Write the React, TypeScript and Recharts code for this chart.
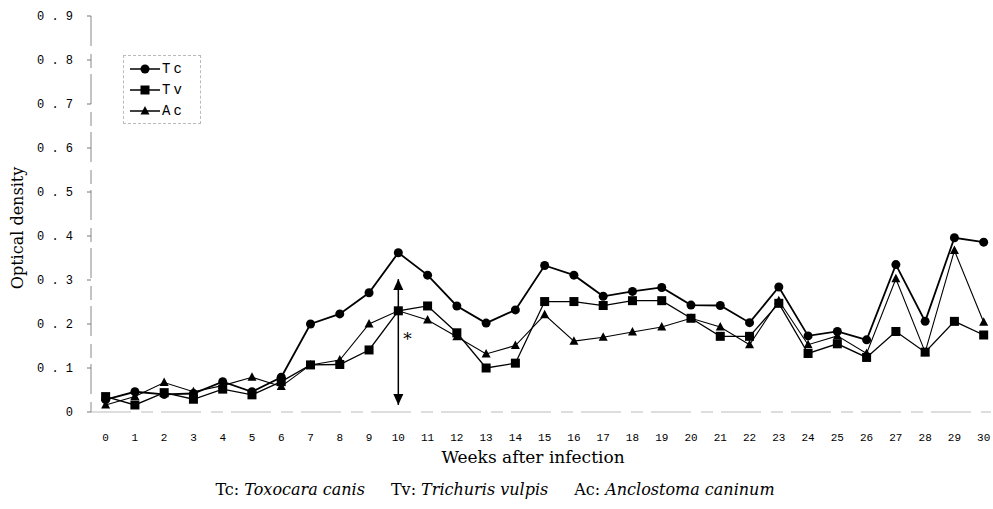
import React from "react";
import {
  LineChart,
  Line,
  XAxis,
  YAxis,
  Legend,
  ReferenceLine,
  ReferenceDot,
  Label,
} from "recharts";

const weeks = [
  0, 1, 2, 3, 4, 5, 6, 7, 8, 9, 10, 11, 12, 13, 14, 15, 16, 17, 18, 19, 20,
  21, 22, 23, 24, 25, 26, 27, 28, 29, 30,
];
const tcValues = [
  0.028, 0.046, 0.04, 0.042, 0.069, 0.046, 0.079, 0.2, 0.223, 0.271, 0.362,
  0.311, 0.241, 0.202, 0.232, 0.333, 0.311, 0.263, 0.274, 0.283, 0.243, 0.242,
  0.203, 0.284, 0.173, 0.183, 0.164, 0.335, 0.206, 0.396, 0.386,
];
const tvValues = [
  0.035, 0.016, 0.044, 0.029, 0.052, 0.039, 0.069, 0.107, 0.108, 0.141, 0.23,
  0.241, 0.18, 0.1, 0.111, 0.251, 0.251, 0.242, 0.253, 0.253, 0.213, 0.172,
  0.172, 0.247, 0.133, 0.155, 0.124, 0.183, 0.136, 0.206, 0.175,
];
const acValues = [
  0.016, 0.035, 0.067, 0.046, 0.06, 0.079, 0.058, 0.107, 0.118, 0.2, 0.23,
  0.209, 0.171, 0.132, 0.151, 0.221, 0.161, 0.17, 0.182, 0.193, 0.213, 0.193,
  0.153, 0.253, 0.153, 0.173, 0.133, 0.303, 0.136, 0.367, 0.204,
];
const yTicks = [0, 0.1, 0.2, 0.3, 0.4, 0.5, 0.6, 0.7, 0.8, 0.9];
const seriesNames = ["Tc", "Tv", "Ac"];
const arrowWeek = 10;
const arrowTop = 0.302;
const arrowBottom = 0.016;
const starValue = 0.17;

const data = weeks.map((w, i) => ({
  week: w,
  Tc: tcValues[i],
  Tv: tvValues[i],
  Ac: acValues[i],
}));

const MONO = "'Liberation Mono', 'DejaVu Sans Mono', monospace";
const SERIF = "'DejaVu Serif', 'Liberation Serif', serif";

const CircleDot = (props: any) => {
  const { cx, cy } = props;
  if (cx == null || cy == null) return null;
  return <circle cx={cx} cy={cy} r={4.5} fill="#000" stroke="none" />;
};
const SquareDot = (props: any) => {
  const { cx, cy } = props;
  if (cx == null || cy == null) return null;
  return <rect x={cx - 4.5} y={cy - 4.5} width={9} height={9} fill="#000" />;
};
const TriDot = (props: any) => {
  const { cx, cy } = props;
  if (cx == null || cy == null) return null;
  return (
    <polygon
      points={`${cx},${cy - 5} ${cx - 4.5},${cy + 3.5} ${cx + 4.5},${cy + 3.5}`}
      fill="#000"
    />
  );
};

const markerFor = (name: string, cx: number, cy: number) => {
  if (name === "Tc") return <CircleDot cx={cx} cy={cy} />;
  if (name === "Tv") return <SquareDot cx={cx} cy={cy} />;
  return <TriDot cx={cx} cy={cy} />;
};

const LegendContent = () => (
  <div
    style={{
      border: "1px dashed #bbb",
      padding: "2px 6px 2px 6px",
      background: "#fff",
      width: 64,
    }}
  >
    {seriesNames.map((n) => (
      <div
        key={n}
        style={{ display: "flex", alignItems: "center", height: 21 }}
      >
        <svg width={30} height={12}>
          <line x1={0} y1={6} x2={30} y2={6} stroke="#000" strokeWidth={1.5} />
          {markerFor(n, 15, 6)}
        </svg>
        <span
          style={{
            fontFamily: MONO,
            fontSize: 14,
            letterSpacing: 3,
            marginLeft: 2,
            color: "#000",
          }}
        >
          {n}
        </span>
      </div>
    ))}
  </div>
);

const yTickFmt = (v: number) =>
  v === 0 ? "0" : v.toFixed(1).split("").join(" ");

const ArrowHead = (dir: "up" | "down") => (props: any) => {
  const { cx, cy } = props;
  if (cx == null || cy == null) return null;
  if (dir === "up")
    return (
      <polygon
        points={`${cx},${cy} ${cx - 5},${cy + 11} ${cx + 5},${cy + 11}`}
        fill="#000"
      />
    );
  return (
    <polygon
      points={`${cx},${cy} ${cx - 5},${cy - 11} ${cx + 5},${cy - 11}`}
      fill="#000"
    />
  );
};

const StarMark = (props: any) => {
  const { cx, cy } = props;
  if (cx == null || cy == null) return null;
  return (
    <text
      x={cx + 5}
      y={cy + 8}
      fontFamily={SERIF}
      fontSize={17}
      fill="#000"
    >
      *
    </text>
  );
};

export default function App() {
  return (
    <div
      style={{
        position: "absolute",
        left: 0,
        top: 0,
        width: 993,
        height: 509,
        background: "#fff",
      }}
    >
      <LineChart
        width={993}
        height={509}
        data={data}
        margin={{ top: 16, right: 2, bottom: 0, left: 0 }}
      >
        <XAxis
          dataKey="week"
          type="number"
          domain={[-0.5, 30.25]}
          ticks={weeks}
          interval={0}
          height={97}
          tickLine={false}
          tickSize={0}
          tickMargin={21}
          axisLine={{ stroke: "#bbb", strokeWidth: 1, strokeDasharray: "40 10 12 8" }}
          tick={{ fontFamily: MONO, fontSize: 11, fill: "#000" }}
        >
          <Label
            content={() => (
              <g>
                <text
                  x={533}
                  y={463}
                  textAnchor="middle"
                  fontFamily={SERIF}
                  fontSize={17}
                  fill="#000"
                >
                  Weeks after infection
                </text>
                <text
                  x={495}
                  y={495}
                  textAnchor="middle"
                  fontFamily={SERIF}
                  fontSize={16}
                  fill="#000"
                >
                  <tspan>Tc: </tspan>
                  <tspan fontStyle="italic">Toxocara canis</tspan>
                  <tspan dx={26}>Tv: </tspan>
                  <tspan fontStyle="italic">Trichuris vulpis</tspan>
                  <tspan dx={26}>Ac: </tspan>
                  <tspan fontStyle="italic">Anclostoma caninum</tspan>
                </text>
              </g>
            )}
          />
        </XAxis>
        <YAxis
          type="number"
          domain={[0, 0.9]}
          ticks={yTicks}
          interval={0}
          width={91}
          tickFormatter={yTickFmt}
          tickLine={{ stroke: "#777" }}
          tickSize={4}
          tickMargin={14}
          axisLine={{ stroke: "#888", strokeWidth: 1, strokeDasharray: "30 8 14 6" }}
          tick={{ fontFamily: MONO, fontSize: 12, fill: "#000" }}
        >
          <Label
            content={() => (
              <text
                x={23}
                y={228}
                transform="rotate(-90 23 228)"
                textAnchor="middle"
                fontFamily={SERIF}
                fontSize={16}
                fill="#000"
              >
                Optical density
              </text>
            )}
          />
        </YAxis>
        <Legend
          layout="horizontal"
          verticalAlign="middle"
          align="center"
          wrapperStyle={{ left: 123, top: 55, width: 80 }}
          content={<LegendContent />}
        />
        <ReferenceLine
          segment={[
            { x: arrowWeek, y: arrowBottom },
            { x: arrowWeek, y: arrowTop },
          ]}
          stroke="#000"
          strokeWidth={1.5}
        />
        <ReferenceDot
          x={arrowWeek}
          y={arrowTop}
          r={0}
          shape={ArrowHead("up")}
        />
        <ReferenceDot
          x={arrowWeek}
          y={arrowBottom}
          r={0}
          shape={ArrowHead("down")}
        />
        <ReferenceDot x={arrowWeek} y={starValue} r={0} shape={StarMark} />
        <Line
          dataKey="Ac"
          stroke="#000"
          strokeWidth={1.1}
          dot={<TriDot />}
          activeDot={false}
          isAnimationActive={false}
        />
        <Line
          dataKey="Tv"
          stroke="#000"
          strokeWidth={1.3}
          dot={<SquareDot />}
          activeDot={false}
          isAnimationActive={false}
        />
        <Line
          dataKey="Tc"
          stroke="#000"
          strokeWidth={1.8}
          dot={<CircleDot />}
          activeDot={false}
          isAnimationActive={false}
        />
      </LineChart>
    </div>
  );
}
